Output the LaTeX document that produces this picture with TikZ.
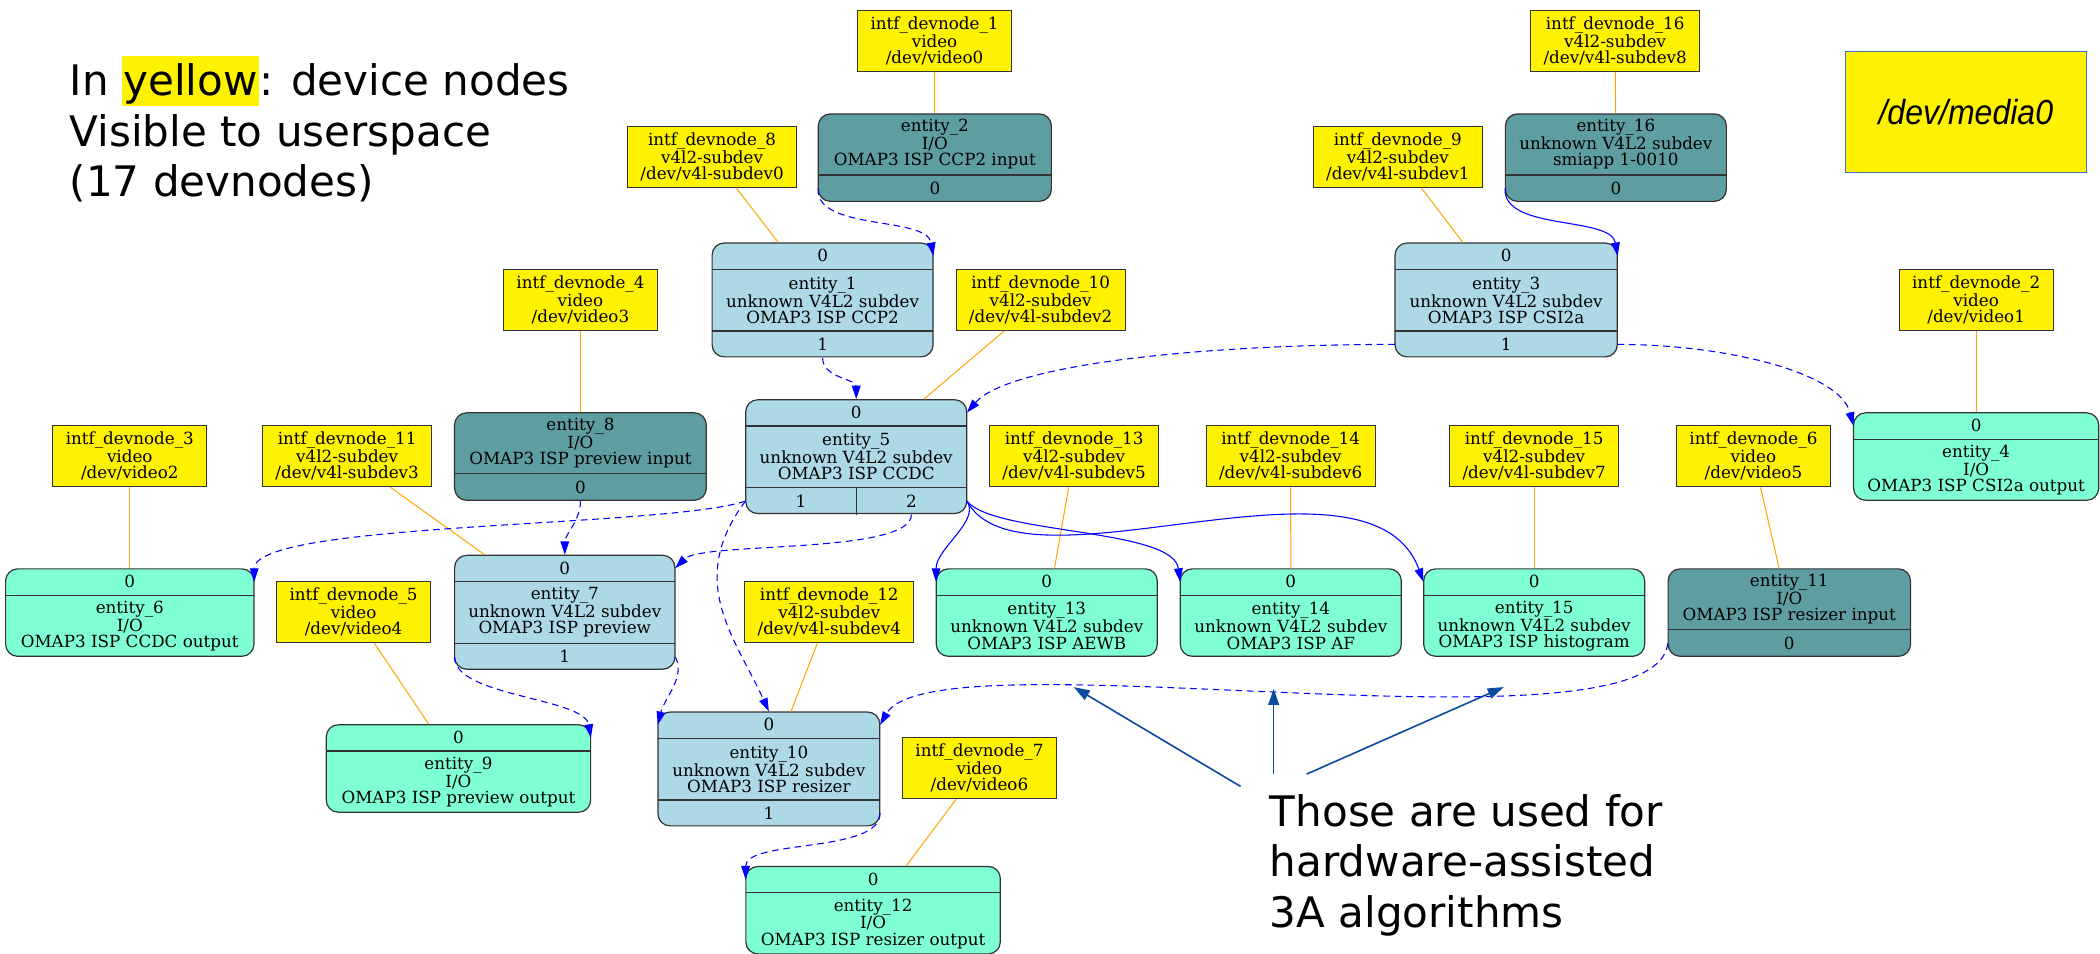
\documentclass[tikz,border=0pt]{standalone}
\usepackage{fontspec}
\setmainfont{DejaVu Serif}
\newfontfamily\gvfont{DejaVu Serif}
\newfontfamily\notefont{DejaVu Sans}
\newfontfamily\mediafont[FakeStretch=0.92]{Liberation Sans}
\usetikzlibrary{positioning,arrows.meta}

\definecolor{subdevfill}{RGB}{173,216,230}
\definecolor{iofill}{RGB}{95,158,160}
\definecolor{sinkfill}{RGB}{127,255,212}
\definecolor{intflink}{RGB}{255,165,0}
\definecolor{notearrow}{RGB}{10,75,160}
\definecolor{mediaborder}{RGB}{70,110,180}

\begin{document}
\begin{tikzpicture}[x=1pt,y=-1pt,
  font=\gvfont\fontsize{12.5}{12.1}\selectfont,
  ent/.style={draw=black!80,line width=0.9pt,rounded corners=9pt,anchor=north,inner sep=0pt},
  entA/.style={minimum height=65.3},
  entC/.style={minimum height=85},
  pad/.style={anchor=north,inner sep=0pt,minimum height=19.7},
  body/.style={inner sep=0pt,minimum height=45.6,align=center},
  split/.style={draw=black!80,line width=0.9pt},
  devnode/.style={draw=black!80,line width=0.7pt,fill=yellow,inner sep=0pt,minimum width=115,minimum height=45.7,align=center},
  subdevnode/.style={devnode,minimum width=126},
  intf/.style={draw=intflink,line width=0.75pt},
  dlink/.style={draw=blue,line width=0.8pt,dash pattern=on 5pt off 3.5pt,-{Triangle[length=10pt,width=6.5pt]}},
  slink/.style={draw=blue,line width=0.8pt,-{Triangle[length=10pt,width=6.5pt]}},
  notelink/.style={draw=notearrow,line width=1.2pt,-{Triangle[length=12pt,width=8pt]}},
  note/.style={font=\notefont\fontsize{31.4}{37.7}\selectfont,align=left,anchor=north west,inner sep=0pt}]
\useasboundingbox (0,0) rectangle (1568,711.6);

\node[note] (legend) at (51.9,41.8) {In {\fboxsep=0pt\colorbox{yellow}{\kern1pt\rule[-7.7pt]{0pt}{37.3pt}yellow\kern1pt}}: device nodes\\Visible to userspace\\(17 devnodes)};
\node[draw=mediaborder,line width=0.6pt,fill=yellow,minimum width=180.4,minimum height=90.4,font=\mediafont\itshape\fontsize{26}{30}\selectfont] (media) at (1467.8,83.8) {/dev/media0};

\node[devnode] (d1) at (697.8,30.5) {intf\_devnode\_1\\video\\/dev/video0};
\node[subdevnode] (d16) at (1206,30.5) {intf\_devnode\_16\\v4l2-subdev\\/dev/v4l-subdev8};
\node[subdevnode] (d8) at (531.7,117) {intf\_devnode\_8\\v4l2-subdev\\/dev/v4l-subdev0};
\node[subdevnode] (d9) at (1043.7,117) {intf\_devnode\_9\\v4l2-subdev\\/dev/v4l-subdev1};
\node[devnode] (d4) at (433.4,224) {intf\_devnode\_4\\video\\/dev/video3};
\node[subdevnode] (d10) at (777,224) {intf\_devnode\_10\\v4l2-subdev\\/dev/v4l-subdev2};
\node[devnode] (d2) at (1475.5,224) {intf\_devnode\_2\\video\\/dev/video1};
\node[devnode] (d3) at (96.9,340.7) {intf\_devnode\_3\\video\\/dev/video2};
\node[subdevnode] (d11) at (259.2,340.7) {intf\_devnode\_11\\v4l2-subdev\\/dev/v4l-subdev3};
\node[subdevnode] (d13) at (802,340.7) {intf\_devnode\_13\\v4l2-subdev\\/dev/v4l-subdev5};
\node[subdevnode] (d14) at (963.7,340.7) {intf\_devnode\_14\\v4l2-subdev\\/dev/v4l-subdev6};
\node[subdevnode] (d15) at (1145.5,340.7) {intf\_devnode\_15\\v4l2-subdev\\/dev/v4l-subdev7};
\node[devnode] (d6) at (1309.2,340.7) {intf\_devnode\_6\\video\\/dev/video5};
\node[devnode] (d5) at (264,457) {intf\_devnode\_5\\video\\/dev/video4};
\node[subdevnode] (d12) at (619.2,457) {intf\_devnode\_12\\v4l2-subdev\\/dev/v4l-subdev4};
\node[devnode] (d7) at (731.3,573.5) {intf\_devnode\_7\\video\\/dev/video6};

\begin{scope}[nodes={minimum width=174}]
\node[ent,entA,fill=iofill] (e2) at (698,84.6) {};
\node[body,anchor=north] (e2b) at (e2.north) {entity\_2\\I/O\\OMAP3 ISP CCP2 input};
\node[pad,below=0pt of e2b] (e2p0) {0};
\draw[split] (e2p0.north west) -- (e2p0.north east);
\end{scope}

\begin{scope}[nodes={minimum width=165}]
\node[ent,entA,fill=iofill] (e16) at (1206.5,84.6) {};
\node[body,anchor=north] (e16b) at (e16.north) {entity\_16\\unknown V4L2 subdev\\smiapp 1-0010};
\node[pad,below=0pt of e16b] (e16p0) {0};
\draw[split] (e16p0.north west) -- (e16p0.north east);
\end{scope}

\begin{scope}[nodes={minimum width=165}]
\node[ent,entC,fill=subdevfill] (e1) at (614.2,181) {};
\node[pad] (e1p0) at (e1.north) {0};
\node[body,below=0pt of e1p0] (e1b) {entity\_1\\unknown V4L2 subdev\\OMAP3 ISP CCP2};
\node[pad,below=0pt of e1b] (e1p1) {1};
\draw[split] (e1p0.south west) -- (e1p0.south east) (e1p1.north west) -- (e1p1.north east);
\end{scope}

\begin{scope}[nodes={minimum width=166}]
\node[ent,entC,fill=subdevfill] (e3) at (1124.6,181) {};
\node[pad] (e3p0) at (e3.north) {0};
\node[body,below=0pt of e3p0] (e3b) {entity\_3\\unknown V4L2 subdev\\OMAP3 ISP CSI2a};
\node[pad,below=0pt of e3b] (e3p1) {1};
\draw[split] (e3p0.south west) -- (e3p0.south east) (e3p1.north west) -- (e3p1.north east);
\end{scope}

\begin{scope}[nodes={minimum width=188}]
\node[ent,entA,fill=iofill] (e8) at (433.4,307.8) {};
\node[body,anchor=north] (e8b) at (e8.north) {entity\_8\\I/O\\OMAP3 ISP preview input};
\node[pad,below=0pt of e8b] (e8p0) {0};
\draw[split] (e8p0.north west) -- (e8p0.north east);
\end{scope}

\begin{scope}[nodes={minimum width=165}]
\node[ent,entC,fill=subdevfill] (e5) at (639.3,298) {};
\node[pad] (e5p0) at (e5.north) {0};
\node[body,below=0pt of e5p0] (e5b) {entity\_5\\unknown V4L2 subdev\\OMAP3 ISP CCDC};
\node[pad,minimum width=82.5,anchor=north west] (e5p1) at (e5b.south west) {1};
\node[pad,minimum width=82.5,anchor=north east] (e5p2) at (e5b.south east) {2};
\draw[split] (e5p0.south west) -- (e5p0.south east) (e5b.south west) -- (e5b.south east) (e5p1.north east) -- (e5p1.south east);
\end{scope}

\begin{scope}[nodes={minimum width=183}]
\node[ent,entA,fill=sinkfill] (e4) at (1475.5,307.8) {};
\node[pad] (e4p0) at (e4.north) {0};
\node[body,below=0pt of e4p0] (e4b) {entity\_4\\I/O\\OMAP3 ISP CSI2a output};
\draw[split] (e4p0.south west) -- (e4p0.south east);
\end{scope}

\begin{scope}[nodes={minimum width=185.4}]
\node[ent,entA,fill=sinkfill] (e6) at (96.9,424.3) {};
\node[pad] (e6p0) at (e6.north) {0};
\node[body,below=0pt of e6p0] (e6b) {entity\_6\\I/O\\OMAP3 ISP CCDC output};
\draw[split] (e6p0.south west) -- (e6p0.south east);
\end{scope}

\begin{scope}[nodes={minimum width=164.5}]
\node[ent,entC,fill=subdevfill] (e7) at (421.7,414.2) {};
\node[pad] (e7p0) at (e7.north) {0};
\node[body,below=0pt of e7p0] (e7b) {entity\_7\\unknown V4L2 subdev\\OMAP3 ISP preview};
\node[pad,below=0pt of e7b] (e7p1) {1};
\draw[split] (e7p0.south west) -- (e7p0.south east) (e7p1.north west) -- (e7p1.north east);
\end{scope}

\begin{scope}[nodes={minimum width=165}]
\node[ent,entA,fill=sinkfill] (e13) at (781.6,424.3) {};
\node[pad] (e13p0) at (e13.north) {0};
\node[body,below=0pt of e13p0] (e13b) {entity\_13\\unknown V4L2 subdev\\OMAP3 ISP AEWB};
\draw[split] (e13p0.south west) -- (e13p0.south east);
\node[ent,entA,fill=sinkfill] (e14) at (963.8,424.3) {};
\node[pad] (e14p0) at (e14.north) {0};
\node[body,below=0pt of e14p0] (e14b) {entity\_14\\unknown V4L2 subdev\\OMAP3 ISP AF};
\draw[split] (e14p0.south west) -- (e14p0.south east);
\node[ent,entA,fill=sinkfill] (e15) at (1145.5,424.3) {};
\node[pad] (e15p0) at (e15.north) {0};
\node[body,below=0pt of e15p0] (e15b) {entity\_15\\unknown V4L2 subdev\\OMAP3 ISP histogram};
\draw[split] (e15p0.south west) -- (e15p0.south east);
\end{scope}

\begin{scope}[nodes={minimum width=181}]
\node[ent,entA,fill=iofill] (e11) at (1336,424.3) {};
\node[body,anchor=north] (e11b) at (e11.north) {entity\_11\\I/O\\OMAP3 ISP resizer input};
\node[pad,below=0pt of e11b] (e11p0) {0};
\draw[split] (e11p0.north west) -- (e11p0.north east);
\end{scope}

\begin{scope}[nodes={minimum width=197.4}]
\node[ent,entA,fill=sinkfill] (e9) at (342.3,540.7) {};
\node[pad] (e9p0) at (e9.north) {0};
\node[body,below=0pt of e9p0] (e9b) {entity\_9\\I/O\\OMAP3 ISP preview output};
\draw[split] (e9p0.south west) -- (e9p0.south east);
\end{scope}

\begin{scope}[nodes={minimum width=165.6}]
\node[ent,entC,fill=subdevfill] (e10) at (574.1,531.2) {};
\node[pad] (e10p0) at (e10.north) {0};
\node[body,below=0pt of e10p0] (e10b) {entity\_10\\unknown V4L2 subdev\\OMAP3 ISP resizer};
\node[pad,below=0pt of e10b] (e10p1) {1};
\draw[split] (e10p0.south west) -- (e10p0.south east) (e10p1.north west) -- (e10p1.north east);
\end{scope}

\begin{scope}[nodes={minimum width=190}]
\node[ent,entA,fill=sinkfill] (e12) at (651.9,646.5) {};
\node[pad] (e12p0) at (e12.north) {0};
\node[body,below=0pt of e12p0] (e12b) {entity\_12\\I/O\\OMAP3 ISP resizer output};
\draw[split] (e12p0.south west) -- (e12p0.south east);
\end{scope}

\path[intf]
(d1) edge (e2) (d16) edge (e16) (d8) edge (e1) (d9) edge (e3)
(d4) edge (e8) (d10) edge (e5) (d2) edge (e4) (d3) edge (e6)
(d11) edge (e7) (d13) edge (e13) (d14) edge (e14) (d15) edge (e15)
(d6) edge (e11) (d5) edge (e9) (d12) edge (e10) (d7) edge (e12);

\draw[dlink] (e2p0.west) .. controls +(-2,32) and +(-5,-30) .. (e1p0.east);
\draw[slink] (e16p0.west) .. controls +(-2,32) and +(-5,-30) .. (e3p0.east);
\draw[dlink] (e1p1.south) .. controls +(0,15) and +(0,-15) .. (e5p0.north);
\draw[dlink] (e3p1.west) .. controls +(-150,0) and +(30,-35) .. (e5p0.east);
\draw[dlink] (e3p1.east) .. controls +(80,0) and +(-10,-40) .. (e4p0.west);
\draw[dlink] (e8p0.south) .. controls +(0,15) and +(0,-15) .. (e7p0.north);
\draw[dlink] (e5p1.west) .. controls +(-60,20) and +(0,-45) .. (e6p0.east);
\draw[dlink] (e5p2.south) .. controls +(0,30) and +(20,-20) .. (e7p0.east);
\draw[dlink] (e5p1.west) .. controls +(-45,60) and +(-25,-55) .. (e10p0.north);
\draw[slink] (e5p2.east) .. controls +(10,15) and +(0,-25) .. (e13p0.west);
\draw[slink] (e5p2.east) .. controls +(20,25) and +(-5,-40) .. (e14p0.west);
\draw[slink] (e5p2.east) .. controls +(40,75) and +(-40,-110) .. (e15p0.west);
\draw[dlink] (e11p0.west) .. controls +(-10,90) and +(40,-70) .. (e10p0.east);
\draw[dlink] (e7p1.west) .. controls +(0,30) and +(-5,-30) .. (e9p0.east);
\draw[dlink] (e7p1.east) .. controls +(8,15) and +(5,-20) .. (e10p0.west);
\draw[dlink] (e10p1.east) .. controls +(0,30) and +(0,-30) .. (e12p0.west);

\node[note] (usage) at (948,592.6) {\rule{0pt}{24pt}Those are used for\\hardware-assisted\\3A algorithms};
\coordinate (u1) at ([shift={(-21.7,-5.4)}]usage.north west);
\coordinate (u2) at ([shift={(3,-14.6)}]usage.north west);
\coordinate (u3) at ([shift={(27.6,-14.6)}]usage.north west);
\coordinate (aewb) at (801.7,513);
\coordinate (af) at (951,514.3);
\coordinate (hist) at (1122.8,513);
\draw[notelink] (u1) -- (aewb);
\draw[notelink] (u2) -- (af);
\draw[notelink] (u3) -- (hist);
\end{tikzpicture}
\end{document}
